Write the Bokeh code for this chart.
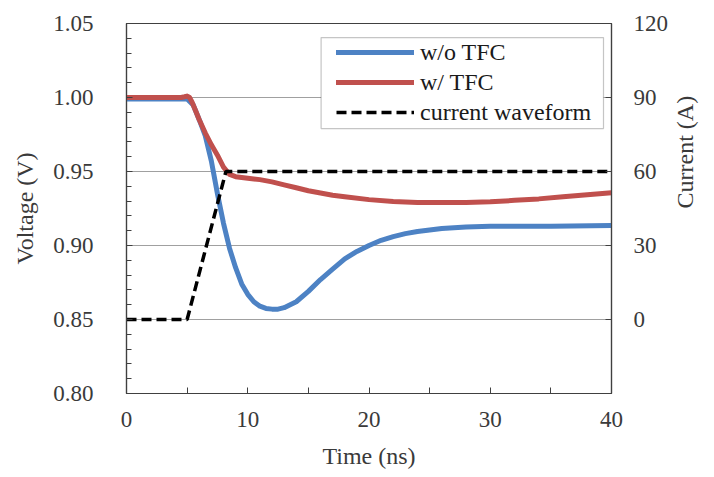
import math
from bokeh.plotting import figure
from bokeh.models import (LinearAxis, Range1d, FixedTicker, NumeralTickFormatter,
                          Legend, LegendItem, BoxAnnotation)
from bokeh.embed import file_html
from bokeh.resources import INLINE

# ---- data ----
t_wo = [0, 4.5, 5.0, 5.5, 6.0, 6.5, 7.0, 7.5, 8.0, 8.5, 9.0, 9.5, 10.0, 10.5, 11.0,
        11.5, 12.0, 12.5, 13.0, 14.0, 15.0, 16.0, 17.0, 18.0, 19.0, 20.0, 21.0, 22.0,
        23.0, 24.0, 25.0, 26.0, 28.0, 30.0, 35.0, 40.0]
v_wo = [0.999, 0.999, 0.999, 0.995, 0.985, 0.974, 0.957, 0.935, 0.915, 0.898, 0.885,
        0.874, 0.867, 0.862, 0.859, 0.8575, 0.857, 0.857, 0.858, 0.862, 0.869, 0.877,
        0.884, 0.891, 0.896, 0.900, 0.9035, 0.906, 0.908, 0.9095, 0.9105, 0.9115,
        0.9125, 0.913, 0.913, 0.9135]

t_w = [0, 4.5, 4.8, 5.0, 5.2, 5.4, 5.7, 6.0, 6.5, 7.0, 7.5, 8.0, 8.5, 9.0, 9.5, 10.0,
       11.0, 12.0, 13.0, 14.0, 15.0, 16.0, 17.0, 18.0, 20.0, 22.0, 24.0, 26.0, 28.0,
       30.0, 32.0, 34.0, 36.0, 38.0, 40.0]
v_w = [1.000, 1.000, 1.0005, 1.001, 1.0, 0.997, 0.991, 0.985, 0.976, 0.968, 0.961,
       0.953, 0.948, 0.9465, 0.946, 0.9455, 0.9445, 0.943, 0.941, 0.939, 0.937, 0.9355,
       0.934, 0.933, 0.931, 0.9298, 0.929, 0.929, 0.929, 0.9295, 0.9305, 0.9315, 0.933,
       0.9343, 0.9356]

t_cur = [0, 5.0, 8.2, 40]
i_cur = [0, 0, 60, 60]

x_ticks = [0, 10, 20, 30, 40]
x_minor = [5, 15, 25, 35]
v_ticks = [0.80, 0.85, 0.90, 0.95, 1.00, 1.05]
v_minor = [round(0.80 + 0.01 * k, 2) for k in range(26)]
i_ticks = [0, 30, 60, 90, 120]

labels = ["w/o TFC", "w/ TFC", "current waveform"]

# ---- styling ----
FONT = "Liberation Serif"
TXT = "#3a3a3a"
AX = "#404040"
BLUE = "#4d82c4"
RED = "#c0504d"

p = figure(width=714, height=477, x_range=Range1d(0, 40), y_range=Range1d(0.80, 1.05),
           output_backend="svg", toolbar_location=None,
           min_border_left=126, min_border_right=102, min_border_top=23,
           min_border_bottom=84)
p.extra_y_ranges = {"cur": Range1d(-30, 120)}
p.outline_line_color = AX
p.outline_line_width = 1.2
p.background_fill_color = "white"
p.border_fill_color = "white"

def style_axis(ax):
    ax.axis_line_color = AX
    ax.axis_line_width = 1.2
    ax.major_tick_line_color = AX
    ax.minor_tick_line_color = AX
    ax.major_tick_in = 6
    ax.major_tick_out = 0
    ax.minor_tick_in = 5
    ax.minor_tick_out = 0
    ax.major_label_text_font = FONT
    ax.major_label_text_font_size = "23px"
    ax.major_label_text_color = TXT
    ax.axis_label_text_font = FONT
    ax.axis_label_text_font_size = "24px"
    ax.axis_label_text_font_style = "normal"
    ax.axis_label_text_color = TXT

xa = p.xaxis[0]
style_axis(xa)
xa.ticker = FixedTicker(ticks=x_ticks, minor_ticks=x_minor)
xa.minor_tick_in = 6
xa.axis_label = "Time (ns)"
xa.major_label_standoff = 18
xa.axis_label_standoff = 13

ya = p.yaxis[0]
style_axis(ya)
ya.ticker = FixedTicker(ticks=v_ticks, minor_ticks=v_minor)
ya.formatter = NumeralTickFormatter(format="0.00")
ya.axis_label = "Voltage (V)"
ya.major_label_standoff = 33
ya.axis_label_standoff = 12

ra = LinearAxis(y_range_name="cur", ticker=FixedTicker(ticks=i_ticks))
style_axis(ra)
ra.minor_tick_line_color = None
ra.axis_label = "Current (A)"
ra.major_label_standoff = 22
ra.axis_label_standoff = 14
ra.axis_label_orientation = math.pi / 2
p.add_layout(ra, "right")

p.xgrid.visible = False
p.ygrid.ticker = FixedTicker(ticks=v_ticks)
p.ygrid.grid_line_color = "#a0a0a0"
p.ygrid.grid_line_width = 1

rb = p.line(t_wo, v_wo, line_color=BLUE, line_width=5, line_join="round", line_cap="round")
rr = p.line(t_w, v_w, line_color=RED, line_width=5, line_join="round", line_cap="round")
rc = p.line(t_cur, i_cur, y_range_name="cur", line_color="black", line_width=3.5,
            line_dash="10 5")

box = BoxAnnotation(left=16.05, right=39.34, top=1.0405, bottom=0.979,
                    fill_color="white", fill_alpha=1.0, line_color=AX, line_width=1.2)
p.add_layout(box)

legend = Legend(items=[LegendItem(label=labels[0], renderers=[rb]),
                       LegendItem(label=labels[1], renderers=[rr]),
                       LegendItem(label=labels[2], renderers=[rc])],
                location=(210, 266), padding=0, spacing=0, margin=0,
                label_height=30, glyph_height=30, glyph_width=78, label_standoff=6,
                border_line_color=None, background_fill_alpha=0,
                label_text_font=FONT, label_text_font_size="24px",
                label_text_color="#1a1a1a")
p.add_layout(legend)

open("out.html", "w").write(file_html(p, INLINE))
